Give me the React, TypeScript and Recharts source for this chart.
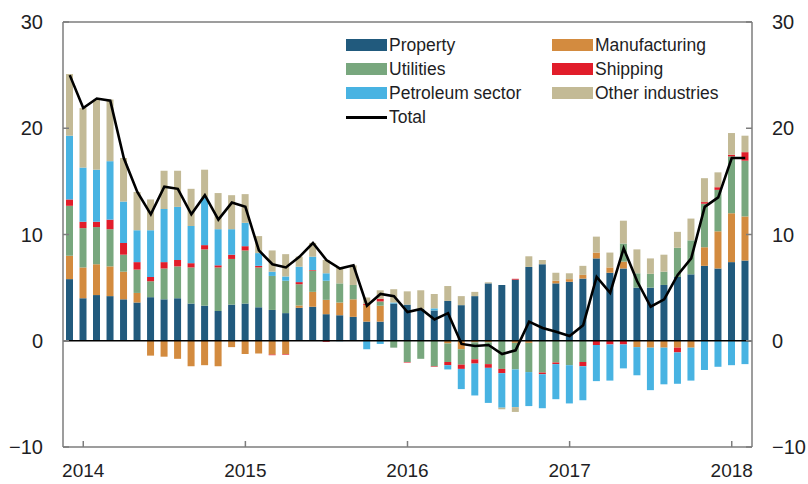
import React from 'react';
import { ComposedChart, Bar, Line, XAxis, YAxis, ReferenceLine, Legend } from 'recharts';

const months = [
  '2013-12',
  '2014-01', '2014-02', '2014-03', '2014-04', '2014-05', '2014-06',
  '2014-07', '2014-08', '2014-09', '2014-10', '2014-11', '2014-12',
  '2015-01', '2015-02', '2015-03', '2015-04', '2015-05', '2015-06',
  '2015-07', '2015-08', '2015-09', '2015-10', '2015-11', '2015-12',
  '2016-01', '2016-02', '2016-03', '2016-04', '2016-05', '2016-06',
  '2016-07', '2016-08', '2016-09', '2016-10', '2016-11', '2016-12',
  '2017-01', '2017-02', '2017-03', '2017-04', '2017-05', '2017-06',
  '2017-07', '2017-08', '2017-09', '2017-10', '2017-11', '2017-12',
  '2018-01', '2018-02',
];

const yearTicks = ['2014-01', '2015-01', '2016-01', '2017-01', '2018-01'];
const valueTicks = [-10, 0, 10, 20, 30];

const property = [
  5.8, 4.0, 4.3, 4.2, 3.9, 3.6, 4.1, 3.9, 4.0, 3.5, 3.3, 2.8, 3.4,
  3.5, 3.15, 2.9, 2.6, 3.1, 3.2, 2.5, 2.4, 2.25, 1.8, 1.8, 3.5,
  3.4, 3.0, 2.85, 3.75, 3.35, 4.2, 5.4, 5.25, 5.75, 6.95, 7.2, 5.4,
  5.55, 5.85, 7.75, 6.4, 6.8, 5.0, 5.0, 5.25, 6.0, 6.25, 7.05, 6.8,
  7.4, 7.55,
];
const manufacturing = [
  2.2, 2.9, 2.9, 2.8, 2.6, 0.9, -1.4, -1.5, -1.7, -2.4, -2.3, -2.4, -0.6,
  -1.25, -1.2, -1.3, -1.25, 0.22, 1.4, 1.35, 1.2, 1.65, 1.55, 1.5, 0,
  0, 0, 0, -0.25, -0.8, -0.15, -0.15, 0, -0.2, -0.2, 0, 0.25,
  0.25, 0.35, 0.55, 0.5, 0.65, -0.6, -0.65, -0.65, -0.65, -0.65, 1.75, 3.5,
  4.6, 4.15,
];
const utilities = [
  4.7, 3.7, 3.5, 3.5, 1.6, 2.2, 1.5, 2.9, 3.0, 3.4, 5.3, 4.1, 4.3,
  5.0, 3.75, 3.2, 3.05, 2.0, 2.0, 1.8, 1.8, 1.35, 0, 0.4, -0.65,
  -2.0, -1.7, -2.4, -1.75, -1.45, -1.6, -2.05, -2.65, -2.5, -2.75, -3.0, -2.05,
  -2.3, -2.0, 0, 0, 1.7, 1.35, 1.3, 1.25, 2.75, 3.2, 4.1, 3.9,
  5.35, 5.25,
];
const shipping = [
  0.6, 0.6, 0.5, 0.9, 1.1, 0.7, 0.4, 0.6, 0.6, 0.4, 0.4, 0.2, 0.4,
  0.4, 0.15, -0.06, -0.06, 0.2, 0.06, -0.1, 0, 0, 0.12, 0.25, 0,
  -0.05, 0, -0.05, -0.3, -0.4, -0.4, -0.35, -0.4, 0.08, 0, -0.15, -0.15,
  0, -0.4, -0.4, -0.35, -0.35, 0, 0, 0, -0.45, 0, 0.15, 0.25,
  0.15, 0.8,
];
const petroleum = [
  6.0, 5.1, 4.9, 5.5, 3.9, 3.0, 4.4, 5.0, 5.0, 3.5, 4.5, 3.4, 2.4,
  2.2, 1.2, 0.4, 0.4, 1.45, 1.25, 0.7, -0.05, 0, -0.8, -0.3, 0.1,
  0, 0, 0.2, -0.4, -1.9, -3.0, -3.3, -3.25, -3.55, -3.2, -3.2, -3.3,
  -3.6, -3.2, -3.4, -3.4, -2.25, -2.65, -4.0, -3.45, -2.95, -3.1, -2.75, -2.45,
  -2.3, -2.2,
];
const other = [
  5.8, 5.6, 6.6, 5.8, 4.1, 3.6, 2.9, 3.6, 3.4, 3.5, 2.6, 3.4, 3.2,
  2.7, 1.6, 2.0, 2.1, 0.95, 1.3, 1.25, 1.5, 1.85, 0.6, 0.8, 1.25,
  1.25, 1.75, 1.35, 1.4, 0.85, 0.4, 0.1, -0.15, -0.45, 1.0, 0.4, 0.75,
  0.55, 0.85, 1.5, 1.4, 2.15, 2.25, 1.45, 1.6, 1.5, 2.05, 2.25, 1.4,
  2.05, 1.55,
];
const total = [
  25.0, 21.9, 22.8, 22.6, 17.2, 14.0, 11.9, 14.5, 14.3, 11.9, 13.7, 11.4, 13.0,
  12.6, 8.5, 7.2, 6.9, 7.9, 9.2, 7.6, 6.8, 7.1, 3.3, 4.4, 4.2,
  2.7, 3.0, 2.0, 2.6, -0.3, -0.5, -0.4, -1.25, -0.9, 1.8, 1.2, 0.85,
  0.45, 1.45, 6.0, 4.5, 8.7, 5.6, 3.2, 3.9, 6.2, 7.75, 12.6, 13.5,
  17.2, 17.2,
];

const data = months.map((month, i) => ({
  month,
  property: property[i],
  manufacturing: manufacturing[i],
  utilities: utilities[i],
  shipping: shipping[i],
  petroleum: petroleum[i],
  other: other[i],
  total: total[i],
}));

const COLORS = {
  property: '#215a7d',
  manufacturing: '#d38b3f',
  utilities: '#78a77e',
  shipping: '#e11d2a',
  petroleum: '#48b3e2',
  other: '#c3ba96',
};

const FONT = '"Liberation Sans", Arial, sans-serif';
const AXIS = '#7d7d7d';
const TEXT = '#1e1e24';

const legendItems = [
  { key: 'property', label: 'Property', col: 0, row: 0 },
  { key: 'utilities', label: 'Utilities', col: 0, row: 1 },
  { key: 'petroleum', label: 'Petroleum sector', col: 0, row: 2 },
  { key: 'total', label: 'Total', col: 0, row: 3 },
  { key: 'manufacturing', label: 'Manufacturing', col: 1, row: 0 },
  { key: 'shipping', label: 'Shipping', col: 1, row: 1 },
  { key: 'other', label: 'Other industries', col: 1, row: 2 },
];

const renderLegend = () => (
  <div style={{ position: 'relative', width: 420, height: 100, fontFamily: FONT }}>
    {legendItems.map((it) => (
      <div
        key={it.key}
        style={{
          position: 'absolute',
          left: it.col * 206,
          top: it.row * 24,
          height: 24,
          display: 'flex',
          alignItems: 'center',
          fontSize: 17.5,
          color: TEXT,
          whiteSpace: 'nowrap',
        }}
      >
        {it.key === 'total' ? (
          <span style={{ width: 41, height: 3, background: '#000', marginRight: 2 }} />
        ) : (
          <span
            style={{
              width: 41,
              height: 12,
              background: COLORS[it.key as keyof typeof COLORS],
              marginRight: 2,
            }}
          />
        )}
        <span>{it.label}</span>
      </div>
    ))}
  </div>
);

const fmtValue = (v: number) => (v < 0 ? '\u2212' + Math.abs(v) : String(v));

export default function App() {
  return (
    <div style={{ position: 'absolute', left: 0, top: 0, background: '#fff' }}>
      <ComposedChart
        width={808}
        height={484}
        data={data}
        stackOffset="sign"
        margin={{ top: 22, right: 6, left: 13, bottom: 0 }}
      >
        <XAxis
          dataKey="month"
          ticks={yearTicks}
          interval={0}
          tickFormatter={(m: string) => m.slice(0, 4)}
          tickSize={-6}
          tickMargin={23}
          height={37}
          axisLine={{ stroke: AXIS, strokeWidth: 1.5 }}
          tickLine={{ stroke: AXIS, strokeWidth: 1.5 }}
          tick={{ fill: TEXT, fontSize: 19, fontFamily: FONT }}
        />
        <YAxis
          yAxisId="left"
          domain={[-10, 30]}
          ticks={valueTicks}
          allowDataOverflow
          width={50}
          tickSize={-6}
          tickMargin={26}
          tickFormatter={fmtValue}
          axisLine={{ stroke: AXIS, strokeWidth: 1.5 }}
          tickLine={{ stroke: AXIS, strokeWidth: 1.5 }}
          tick={{ fill: TEXT, fontSize: 20, fontFamily: FONT }}
        />
        <YAxis
          yAxisId="right"
          orientation="right"
          domain={[-10, 30]}
          ticks={valueTicks}
          allowDataOverflow
          width={50}
          tickSize={-6}
          tickMargin={26}
          tickFormatter={fmtValue}
          axisLine={{ stroke: AXIS, strokeWidth: 1.5 }}
          tickLine={{ stroke: AXIS, strokeWidth: 1.5 }}
          tick={{ fill: TEXT, fontSize: 20, fontFamily: FONT }}
        />
        <ReferenceLine yAxisId="left" y={30} stroke={AXIS} strokeWidth={1.5} />
        <Legend
          content={renderLegend}
          layout="horizontal"
          verticalAlign="middle"
          align="center"
          wrapperStyle={{ left: 346, top: 33, width: 420, height: 100 }}
        />
        <Bar yAxisId="left" dataKey="property" stackId="a" fill={COLORS.property} barSize={7} isAnimationActive={false} />
        <Bar yAxisId="left" dataKey="manufacturing" stackId="a" fill={COLORS.manufacturing} barSize={7} isAnimationActive={false} />
        <Bar yAxisId="left" dataKey="utilities" stackId="a" fill={COLORS.utilities} barSize={7} isAnimationActive={false} />
        <Bar yAxisId="left" dataKey="shipping" stackId="a" fill={COLORS.shipping} barSize={7} isAnimationActive={false} />
        <Bar yAxisId="left" dataKey="petroleum" stackId="a" fill={COLORS.petroleum} barSize={7} isAnimationActive={false} />
        <Bar yAxisId="left" dataKey="other" stackId="a" fill={COLORS.other} barSize={7} isAnimationActive={false} />
        <ReferenceLine yAxisId="left" y={0} stroke="#000" strokeWidth={1.5} />
        <Line
          yAxisId="right"
          type="linear"
          dataKey="total"
          stroke="#000"
          strokeWidth={2.6}
          dot={false}
          activeDot={false}
          isAnimationActive={false}
        />
      </ComposedChart>
    </div>
  );
}
